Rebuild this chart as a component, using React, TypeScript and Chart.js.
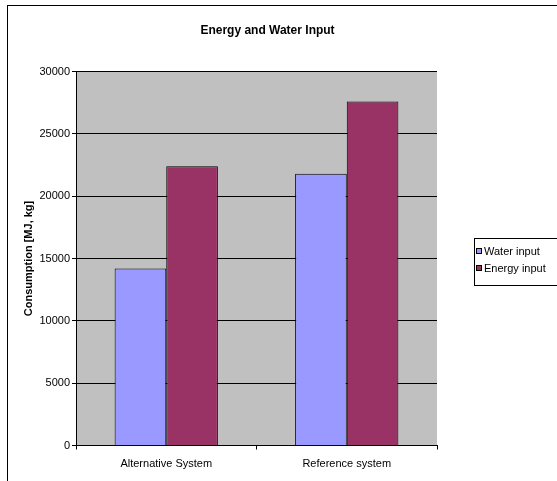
import React, { useEffect, useRef } from "react";
import { Chart, registerables } from "chart.js";

Chart.register(...registerables);

// Chart content
const chartTitle = "Energy and Water Input";
const yAxisTitle = "Consumption [MJ, kg]";
const categories = ["Alternative System", "Reference system"];
const seriesNames = ["Water input", "Energy input"];
const waterInput = [14200, 21800];
const energyInput = [22400, 27600];
const yMin = 0;
const yMax = 30000;
const yStep = 5000;

const WIDTH = 557;
const HEIGHT = 481;
const FONT = "'Liberation Sans', Arial, sans-serif";
const seriesColors = ["#9999FF", "#993366"];

// Draws the white page, grey plot area, outer frame, title and the boxed legend
const framePlugin = {
  id: "frame",
  beforeDraw(chart: any) {
    const { ctx, chartArea: a } = chart;
    ctx.save();
    ctx.fillStyle = "#FFFFFF";
    ctx.fillRect(0, 0, chart.width, chart.height);
    ctx.fillStyle = "#C0C0C0";
    ctx.fillRect(a.left, a.top, a.right - a.left, a.bottom - a.top);
    ctx.strokeStyle = "#000000";
    ctx.lineWidth = 1;
    ctx.strokeRect(7.5, 5.5, chart.width + 10, chart.height + 10);
    ctx.restore();
  },
  afterDraw(chart: any) {
    const { ctx } = chart;
    ctx.save();
    ctx.fillStyle = "#000000";
    ctx.font = `bold 12px ${FONT}`;
    ctx.textAlign = "center";
    ctx.textBaseline = "alphabetic";
    ctx.fillText(chartTitle, 267.5, 34);

    // legend box
    const lx = 474.5;
    const ly = 238.5;
    ctx.strokeStyle = "#000000";
    ctx.lineWidth = 1;
    ctx.strokeRect(lx, ly, 100, 47);
    ctx.font = `11px ${FONT}`;
    ctx.textAlign = "left";
    ctx.textBaseline = "middle";
    chart.data.datasets.forEach((ds: any, i: number) => {
      const cy = 251.5 + i * 17;
      ctx.fillStyle = ds.backgroundColor;
      ctx.fillRect(476.5, cy - 3, 5, 5);
      ctx.strokeStyle = "#000000";
      ctx.strokeRect(476.5, cy - 3, 5, 5);
      ctx.fillStyle = "#000000";
      ctx.fillText(ds.label, 484, cy);
    });
    ctx.restore();
  },
};

export default function App() {
  const canvasRef = useRef<HTMLCanvasElement | null>(null);

  useEffect(() => {
    if (!canvasRef.current) return;
    const chart = new Chart(canvasRef.current, {
      type: "bar",
      data: {
        labels: categories,
        datasets: [
          {
            label: seriesNames[0],
            data: waterInput,
            backgroundColor: seriesColors[0],
            borderColor: "#000000",
            borderWidth: 1,
            categoryPercentage: 0.572,
            barPercentage: 1.0,
          },
          {
            label: seriesNames[1],
            data: energyInput,
            backgroundColor: seriesColors[1],
            borderColor: "#000000",
            borderWidth: 1,
            categoryPercentage: 0.572,
            barPercentage: 1.0,
          },
        ],
      },
      options: {
        responsive: false,
        animation: false,
        devicePixelRatio: 1,
        layout: { padding: { left: 0, top: 71.5, right: 120, bottom: 0 } },
        plugins: {
          legend: { display: false },
          title: { display: false },
          tooltip: { enabled: false },
        },
        scales: {
          x: {
            grid: {
              display: true,
              drawOnChartArea: false,
              drawTicks: true,
              tickLength: 4,
              color: "#000000",
              offset: true,
            },
            border: { color: "#000000" },
            ticks: {
              color: "#000000",
              font: { family: FONT, size: 11 },
              padding: 8,
              maxRotation: 0,
            },
            afterFit: (s: any) => {
              s.height = HEIGHT - 445.5;
            },
          },
          y: {
            min: yMin,
            max: yMax,
            ticks: {
              stepSize: yStep,
              color: "#000000",
              font: { family: FONT, size: 11 },
              padding: 2,
              callback: (v: any) => String(v),
            },
            grid: { color: "#000000", tickLength: 4 },
            border: { color: "#000000" },
            title: {
              display: true,
              text: yAxisTitle,
              color: "#000000",
              font: { family: FONT, size: 11, weight: "bold" },
              padding: { top: 22, bottom: 0 },
            },
            afterFit: (s: any) => {
              s.width = 76;
            },
          },
        },
      },
      plugins: [framePlugin],
    });
    return () => chart.destroy();
  }, []);

  return (
    <div style={{ position: "absolute", left: 0, top: 0, width: WIDTH, height: HEIGHT }}>
      <canvas ref={canvasRef} width={WIDTH} height={HEIGHT} style={{ display: "block" }} />
    </div>
  );
}
